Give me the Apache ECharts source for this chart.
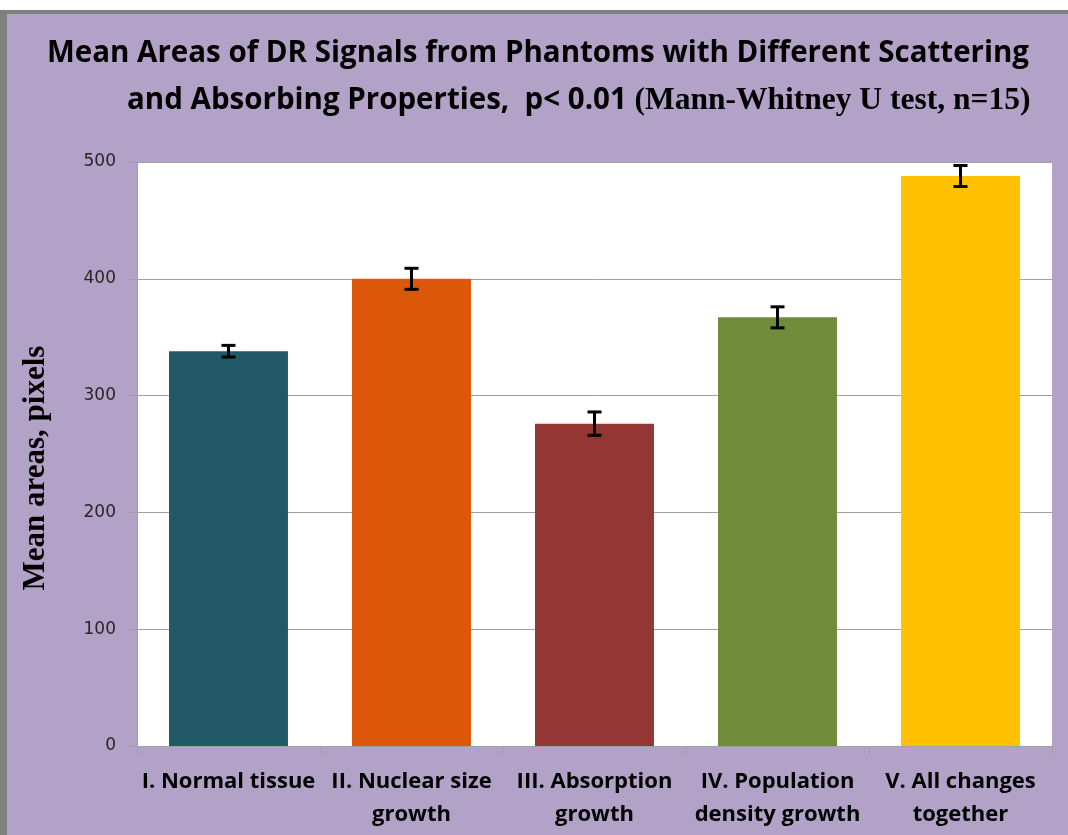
<!DOCTYPE html>
<html>
<head>
<meta charset="utf-8">
<script src="https://cdn.jsdelivr.net/npm/echarts@6/dist/echarts.min.js"></script>
<style>
    html, body { margin: 0; padding: 0; background: #fff; }
    #panel {
        position: absolute; left: 0; top: 10px; width: 1061px; height: 821px;
        background: #b3a2c7; border-top: 4px solid #7f7f7f; border-left: 7px solid #7f7f7f;
    }
    #chart { position: absolute; left: 0; top: 0; width: 1068px; height: 835px; }
</style>
</head>
<body>
<div id="panel"></div>
<div id="chart"></div>
<script>
// data
const categories = ['I. Normal tissue', 'II. Nuclear size\ngrowth', 'III. Absorption\ngrowth', 'IV. Population\ndensity growth', 'V. All changes\ntogether']
const meanAreas = [338, 400, 276, 367, 488]
const errors = [5, 9, 10, 9, 9]
const barColors = ['#215968', '#dd570b', '#943634', '#6f8c3a', '#ffc000']

const mChart = echarts.init(document.getElementById('chart'))

const option = {
    backgroundColor: 'transparent',
    animation: false,
    title: [
        {
            text: 'Mean Areas of DR Signals from Phantoms with Different Scattering',
            left: 533,
            top: 34,
            textAlign: 'center',
            textStyle: { fontFamily: 'Open Sans', fontWeight: 'bold', fontSize: 29.5, color: '#000' }
        },
        {
            text: '{a|and Absorbing Properties,  p< 0.01 }{b|(Mann-Whitney U test, n=15)}',
            left: 122,
            top: 80,
            textStyle: {
                rich: {
                    a: { fontFamily: 'Open Sans', fontWeight: 'bold', fontSize: 29.5, color: '#000' },
                    b: { fontFamily: 'Liberation Serif', fontWeight: 'bold', fontSize: 31.5, color: '#000' }
                }
            }
        }
    ],
    grid: {
        left: 137,
        right: 16,
        top: 162,
        bottom: 89,
        show: true,
        backgroundColor: '#fff',
        borderWidth: 0
    },
    xAxis: {
        type: 'category',
        data: categories,
        axisLine: { show: true, lineStyle: { color: '#a0a0a0', width: 1 } },
        axisTick: { show: true, length: 8, lineStyle: { color: '#a0a0a0' } },
        axisLabel: {
            color: '#000',
            fontFamily: 'Open Sans',
            fontWeight: 'bold',
            fontSize: 22,
            lineHeight: 33,
            margin: 19,
            interval: 0
        }
    },
    yAxis: {
        type: 'value',
        min: 0,
        max: 500,
        interval: 100,
        name: 'Mean areas, pixels',
        nameLocation: 'middle',
        nameGap: 86,
        nameTextStyle: {
            fontFamily: 'Liberation Serif', fontWeight: 'bold', fontSize: 31, color: '#000',
            padding: [0, 28, 0, 0]
        },
        axisLine: { show: true, lineStyle: { color: '#a0a0a0' } },
        axisTick: { show: true, length: 9, lineStyle: { color: '#a0a0a0' } },
        axisLabel: { color: '#262626', fontFamily: 'DejaVu Sans', fontSize: 17, margin: 21 },
        splitLine: { lineStyle: { color: '#a0a0a0', width: 1 } }
    },
    series: [
        {
            type: 'bar',
            barWidth: '65%',
            data: meanAreas.map((v, i) => ({ value: v, itemStyle: { color: barColors[i] } }))
        },
        {
            type: 'custom',
            z: 10,
            data: meanAreas.map((v, i) => [i, v - errors[i], v + errors[i]]),
            renderItem: (params, api) => {
                const lo = api.coord([api.value(0), api.value(1)])
                const hi = api.coord([api.value(0), api.value(2)])
                const half = 7
                const style = { stroke: '#000', lineWidth: 3 }
                return {
                    type: 'group',
                    children: [
                        { type: 'line', shape: { x1: lo[0], y1: lo[1], x2: hi[0], y2: hi[1] }, style },
                        { type: 'line', shape: { x1: lo[0] - half, y1: lo[1], x2: lo[0] + half, y2: lo[1] }, style },
                        { type: 'line', shape: { x1: hi[0] - half, y1: hi[1], x2: hi[0] + half, y2: hi[1] }, style }
                    ]
                }
            }
        }
    ]
}
mChart.setOption(option)
</script>
</body>
</html>
